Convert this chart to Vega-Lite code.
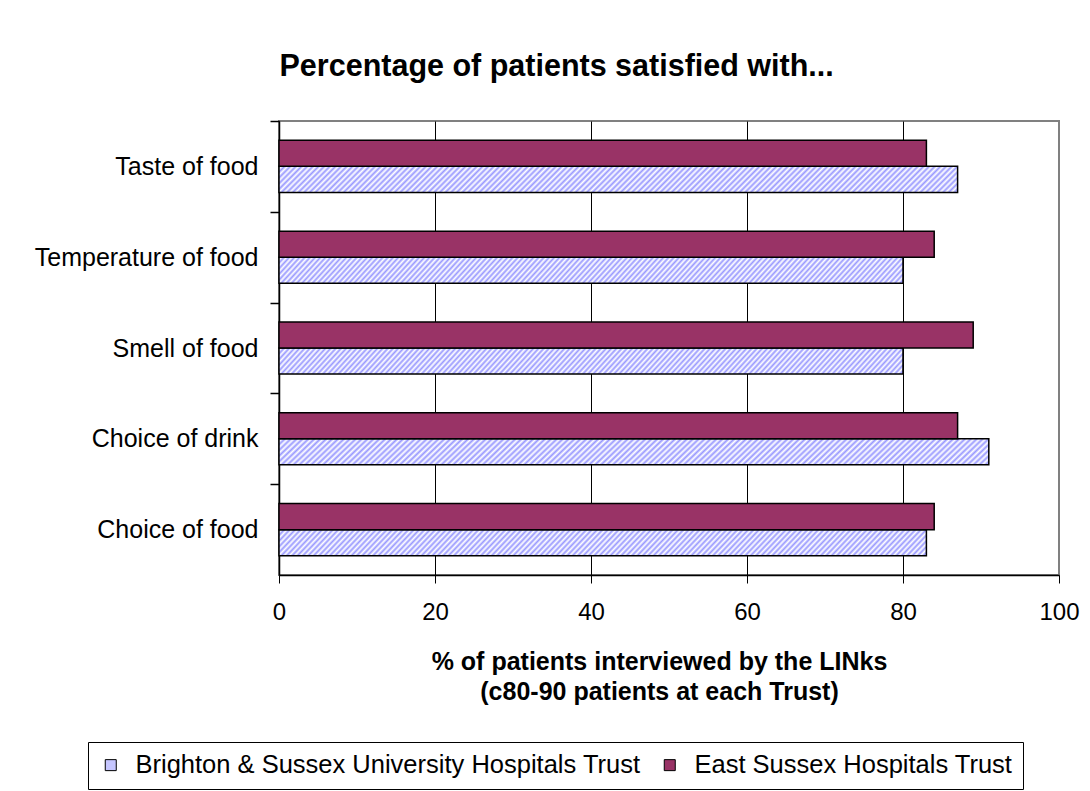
{
  "$schema": "https://vega.github.io/schema/vega-lite/v6.json",
  "width": 780,
  "height": 454,
  "autosize": "none",
  "padding": {"left": 279, "top": 121, "right": 31, "bottom": 216},
  "background": "white",
  "config": {"font": "Liberation Sans", "view": {"stroke": "#808080", "strokeWidth": 2}},
  "title": {"text": "Percentage of patients satisfied with...", "fontSize": 30.5, "fontWeight": "bold", "color": "black", "anchor": "middle", "frame": "bounds", "offset": 14, "baseline": "alphabetic"},
  "data": {"values": [
    {"Item": "Taste of food", "Trust": "Brighton & Sussex University Hospitals Trust", "Percent": 87},
    {"Item": "Taste of food", "Trust": "East Sussex Hospitals Trust", "Percent": 83},
    {"Item": "Temperature of food", "Trust": "Brighton & Sussex University Hospitals Trust", "Percent": 80},
    {"Item": "Temperature of food", "Trust": "East Sussex Hospitals Trust", "Percent": 84},
    {"Item": "Smell of food", "Trust": "Brighton & Sussex University Hospitals Trust", "Percent": 80},
    {"Item": "Smell of food", "Trust": "East Sussex Hospitals Trust", "Percent": 89},
    {"Item": "Choice of drink", "Trust": "Brighton & Sussex University Hospitals Trust", "Percent": 91},
    {"Item": "Choice of drink", "Trust": "East Sussex Hospitals Trust", "Percent": 87},
    {"Item": "Choice of food", "Trust": "Brighton & Sussex University Hospitals Trust", "Percent": 83},
    {"Item": "Choice of food", "Trust": "East Sussex Hospitals Trust", "Percent": 84}
  ]},
  "mark": {"type": "bar", "stroke": "black", "strokeWidth": 1.5},
  "encoding": {
    "y": {"field": "Item", "type": "nominal",
      "sort": ["Taste of food", "Temperature of food", "Smell of food", "Choice of drink", "Choice of food"],
      "scale": {"paddingInner": 0.427, "paddingOuter": 0.213},
      "axis": {"title": null, "labelFontSize": 25, "labelColor": "black", "labelLimit": 400, "labelPadding": 12, "tickSize": 9, "tickColor": "black", "tickWidth": 1.5, "tickOffset": -45.4, "labelOffset": 45.4, "domainColor": "black", "domainWidth": 1.5, "grid": false}},
    "yOffset": {"field": "Trust", "type": "nominal", "sort": ["East Sussex Hospitals Trust", "Brighton & Sussex University Hospitals Trust"]},
    "x": {"field": "Percent", "type": "quantitative",
      "scale": {"domain": [0, 100], "nice": false},
      "axis": {"values": [0, 20, 40, 60, 80, 100], "labelFlush": false, "labelFontSize": 24, "labelColor": "black", "labelPadding": 17, "tickSize": 8, "tickColor": "black", "domainColor": "black", "domainWidth": 1.5, "grid": true,
        "gridColor": {"condition": {"test": "datum.value === 100", "value": "#808080"}, "value": "black"}, "gridWidth": 1, "gridOpacity": 1,
        "title": ["% of patients interviewed by the LINks", "(c80-90 patients at each Trust)"],
        "titleFontSize": 25, "titleFontWeight": "bold", "titleColor": "black", "titleLineHeight": 30, "titlePadding": 25, "titleX": 380}},
    "fill": {"field": "Trust", "type": "nominal",
      "scale": {"domain": ["Brighton & Sussex University Hospitals Trust", "East Sussex Hospitals Trust"], "range": ["#c6c6ff", "#993366"]},
      "condition": {"test": "datum.Trust === 'Brighton & Sussex University Hospitals Trust'", "value": {"gradient": "linear", "x1": 0, "y1": 0, "x2": 1.04, "y2": 0.0395, "stops": [
{"offset":0.000,"color":"#99f"},{"offset":0.004,"color":"#fff"},{"offset":0.008,"color":"#99f"},{"offset":0.012,"color":"#fff"},{"offset":0.016,"color":"#99f"},{"offset":0.020,"color":"#fff"},{"offset":0.024,"color":"#99f"},{"offset":0.028,"color":"#fff"},{"offset":0.032,"color":"#99f"},{"offset":0.036,"color":"#fff"},{"offset":0.040,"color":"#99f"},{"offset":0.044,"color":"#fff"},{"offset":0.048,"color":"#99f"},{"offset":0.052,"color":"#fff"},{"offset":0.056,"color":"#99f"},{"offset":0.060,"color":"#fff"},{"offset":0.064,"color":"#99f"},{"offset":0.068,"color":"#fff"},{"offset":0.072,"color":"#99f"},{"offset":0.076,"color":"#fff"},{"offset":0.080,"color":"#99f"},{"offset":0.084,"color":"#fff"},{"offset":0.088,"color":"#99f"},{"offset":0.092,"color":"#fff"},{"offset":0.096,"color":"#99f"},
{"offset":0.100,"color":"#fff"},{"offset":0.104,"color":"#99f"},{"offset":0.108,"color":"#fff"},{"offset":0.112,"color":"#99f"},{"offset":0.116,"color":"#fff"},{"offset":0.120,"color":"#99f"},{"offset":0.124,"color":"#fff"},{"offset":0.128,"color":"#99f"},{"offset":0.132,"color":"#fff"},{"offset":0.136,"color":"#99f"},{"offset":0.140,"color":"#fff"},{"offset":0.144,"color":"#99f"},{"offset":0.148,"color":"#fff"},{"offset":0.152,"color":"#99f"},{"offset":0.156,"color":"#fff"},{"offset":0.160,"color":"#99f"},{"offset":0.164,"color":"#fff"},{"offset":0.168,"color":"#99f"},{"offset":0.172,"color":"#fff"},{"offset":0.176,"color":"#99f"},{"offset":0.180,"color":"#fff"},{"offset":0.184,"color":"#99f"},{"offset":0.188,"color":"#fff"},{"offset":0.192,"color":"#99f"},{"offset":0.196,"color":"#fff"},
{"offset":0.200,"color":"#99f"},{"offset":0.204,"color":"#fff"},{"offset":0.208,"color":"#99f"},{"offset":0.212,"color":"#fff"},{"offset":0.216,"color":"#99f"},{"offset":0.220,"color":"#fff"},{"offset":0.224,"color":"#99f"},{"offset":0.228,"color":"#fff"},{"offset":0.232,"color":"#99f"},{"offset":0.236,"color":"#fff"},{"offset":0.240,"color":"#99f"},{"offset":0.244,"color":"#fff"},{"offset":0.248,"color":"#99f"},{"offset":0.252,"color":"#fff"},{"offset":0.256,"color":"#99f"},{"offset":0.260,"color":"#fff"},{"offset":0.264,"color":"#99f"},{"offset":0.268,"color":"#fff"},{"offset":0.272,"color":"#99f"},{"offset":0.276,"color":"#fff"},{"offset":0.280,"color":"#99f"},{"offset":0.284,"color":"#fff"},{"offset":0.288,"color":"#99f"},{"offset":0.292,"color":"#fff"},{"offset":0.296,"color":"#99f"},
{"offset":0.300,"color":"#fff"},{"offset":0.304,"color":"#99f"},{"offset":0.308,"color":"#fff"},{"offset":0.312,"color":"#99f"},{"offset":0.316,"color":"#fff"},{"offset":0.320,"color":"#99f"},{"offset":0.324,"color":"#fff"},{"offset":0.328,"color":"#99f"},{"offset":0.332,"color":"#fff"},{"offset":0.336,"color":"#99f"},{"offset":0.340,"color":"#fff"},{"offset":0.344,"color":"#99f"},{"offset":0.348,"color":"#fff"},{"offset":0.352,"color":"#99f"},{"offset":0.356,"color":"#fff"},{"offset":0.360,"color":"#99f"},{"offset":0.364,"color":"#fff"},{"offset":0.368,"color":"#99f"},{"offset":0.372,"color":"#fff"},{"offset":0.376,"color":"#99f"},{"offset":0.380,"color":"#fff"},{"offset":0.384,"color":"#99f"},{"offset":0.388,"color":"#fff"},{"offset":0.392,"color":"#99f"},{"offset":0.396,"color":"#fff"},
{"offset":0.400,"color":"#99f"},{"offset":0.404,"color":"#fff"},{"offset":0.408,"color":"#99f"},{"offset":0.412,"color":"#fff"},{"offset":0.416,"color":"#99f"},{"offset":0.420,"color":"#fff"},{"offset":0.424,"color":"#99f"},{"offset":0.428,"color":"#fff"},{"offset":0.432,"color":"#99f"},{"offset":0.436,"color":"#fff"},{"offset":0.440,"color":"#99f"},{"offset":0.444,"color":"#fff"},{"offset":0.448,"color":"#99f"},{"offset":0.452,"color":"#fff"},{"offset":0.456,"color":"#99f"},{"offset":0.460,"color":"#fff"},{"offset":0.464,"color":"#99f"},{"offset":0.468,"color":"#fff"},{"offset":0.472,"color":"#99f"},{"offset":0.476,"color":"#fff"},{"offset":0.480,"color":"#99f"},{"offset":0.484,"color":"#fff"},{"offset":0.488,"color":"#99f"},{"offset":0.492,"color":"#fff"},{"offset":0.496,"color":"#99f"},
{"offset":0.500,"color":"#fff"},{"offset":0.504,"color":"#99f"},{"offset":0.508,"color":"#fff"},{"offset":0.512,"color":"#99f"},{"offset":0.516,"color":"#fff"},{"offset":0.520,"color":"#99f"},{"offset":0.524,"color":"#fff"},{"offset":0.528,"color":"#99f"},{"offset":0.532,"color":"#fff"},{"offset":0.536,"color":"#99f"},{"offset":0.540,"color":"#fff"},{"offset":0.544,"color":"#99f"},{"offset":0.548,"color":"#fff"},{"offset":0.552,"color":"#99f"},{"offset":0.556,"color":"#fff"},{"offset":0.560,"color":"#99f"},{"offset":0.564,"color":"#fff"},{"offset":0.568,"color":"#99f"},{"offset":0.572,"color":"#fff"},{"offset":0.576,"color":"#99f"},{"offset":0.580,"color":"#fff"},{"offset":0.584,"color":"#99f"},{"offset":0.588,"color":"#fff"},{"offset":0.592,"color":"#99f"},{"offset":0.596,"color":"#fff"},
{"offset":0.600,"color":"#99f"},{"offset":0.604,"color":"#fff"},{"offset":0.608,"color":"#99f"},{"offset":0.612,"color":"#fff"},{"offset":0.616,"color":"#99f"},{"offset":0.620,"color":"#fff"},{"offset":0.624,"color":"#99f"},{"offset":0.628,"color":"#fff"},{"offset":0.632,"color":"#99f"},{"offset":0.636,"color":"#fff"},{"offset":0.640,"color":"#99f"},{"offset":0.644,"color":"#fff"},{"offset":0.648,"color":"#99f"},{"offset":0.652,"color":"#fff"},{"offset":0.656,"color":"#99f"},{"offset":0.660,"color":"#fff"},{"offset":0.664,"color":"#99f"},{"offset":0.668,"color":"#fff"},{"offset":0.672,"color":"#99f"},{"offset":0.676,"color":"#fff"},{"offset":0.680,"color":"#99f"},{"offset":0.684,"color":"#fff"},{"offset":0.688,"color":"#99f"},{"offset":0.692,"color":"#fff"},{"offset":0.696,"color":"#99f"},
{"offset":0.700,"color":"#fff"},{"offset":0.704,"color":"#99f"},{"offset":0.708,"color":"#fff"},{"offset":0.712,"color":"#99f"},{"offset":0.716,"color":"#fff"},{"offset":0.720,"color":"#99f"},{"offset":0.724,"color":"#fff"},{"offset":0.728,"color":"#99f"},{"offset":0.732,"color":"#fff"},{"offset":0.736,"color":"#99f"},{"offset":0.740,"color":"#fff"},{"offset":0.744,"color":"#99f"},{"offset":0.748,"color":"#fff"},{"offset":0.752,"color":"#99f"},{"offset":0.756,"color":"#fff"},{"offset":0.760,"color":"#99f"},{"offset":0.764,"color":"#fff"},{"offset":0.768,"color":"#99f"},{"offset":0.772,"color":"#fff"},{"offset":0.776,"color":"#99f"},{"offset":0.780,"color":"#fff"},{"offset":0.784,"color":"#99f"},{"offset":0.788,"color":"#fff"},{"offset":0.792,"color":"#99f"},{"offset":0.796,"color":"#fff"},
{"offset":0.800,"color":"#99f"},{"offset":0.804,"color":"#fff"},{"offset":0.808,"color":"#99f"},{"offset":0.812,"color":"#fff"},{"offset":0.816,"color":"#99f"},{"offset":0.820,"color":"#fff"},{"offset":0.824,"color":"#99f"},{"offset":0.828,"color":"#fff"},{"offset":0.832,"color":"#99f"},{"offset":0.836,"color":"#fff"},{"offset":0.840,"color":"#99f"},{"offset":0.844,"color":"#fff"},{"offset":0.848,"color":"#99f"},{"offset":0.852,"color":"#fff"},{"offset":0.856,"color":"#99f"},{"offset":0.860,"color":"#fff"},{"offset":0.864,"color":"#99f"},{"offset":0.868,"color":"#fff"},{"offset":0.872,"color":"#99f"},{"offset":0.876,"color":"#fff"},{"offset":0.880,"color":"#99f"},{"offset":0.884,"color":"#fff"},{"offset":0.888,"color":"#99f"},{"offset":0.892,"color":"#fff"},{"offset":0.896,"color":"#99f"},
{"offset":0.900,"color":"#fff"},{"offset":0.904,"color":"#99f"},{"offset":0.908,"color":"#fff"},{"offset":0.912,"color":"#99f"},{"offset":0.916,"color":"#fff"},{"offset":0.920,"color":"#99f"},{"offset":0.924,"color":"#fff"},{"offset":0.928,"color":"#99f"},{"offset":0.932,"color":"#fff"},{"offset":0.936,"color":"#99f"},{"offset":0.940,"color":"#fff"},{"offset":0.944,"color":"#99f"},{"offset":0.948,"color":"#fff"},{"offset":0.952,"color":"#99f"},{"offset":0.956,"color":"#fff"},{"offset":0.960,"color":"#99f"},{"offset":0.964,"color":"#fff"},{"offset":0.968,"color":"#99f"},{"offset":0.972,"color":"#fff"},{"offset":0.976,"color":"#99f"},{"offset":0.980,"color":"#fff"},{"offset":0.984,"color":"#99f"},{"offset":0.988,"color":"#fff"},{"offset":0.992,"color":"#99f"},{"offset":0.996,"color":"#fff"},
{"offset":1.000,"color":"#99f"}
      ]}},
      "legend": {"title": null, "orient": "none", "legendX": -191, "legendY": 621, "direction": "horizontal",
        "strokeColor": "black", "fillColor": "white", "padding": 10,
        "symbolType": "square", "symbolSize": 121, "symbolStrokeColor": "black", "symbolStrokeWidth": 1,
        "labelFontSize": 25.5, "labelColor": "black", "labelLimit": 800, "labelOffset": 12, "columnPadding": 16,
        "encode": {"symbols": {"update": {
          "fill": [
            {"test": "datum.value === 'Brighton & Sussex University Hospitals Trust'", "value": {"gradient": "linear", "x1": 0, "y1": 0, "x2": 1, "y2": 1, "stops": [
              {"offset":0,"color":"#99f"},{"offset":0.125,"color":"#fff"},{"offset":0.25,"color":"#99f"},{"offset":0.375,"color":"#fff"},{"offset":0.5,"color":"#99f"},{"offset":0.625,"color":"#fff"},{"offset":0.75,"color":"#99f"},{"offset":0.875,"color":"#fff"},{"offset":1,"color":"#99f"}]}},
            {"value": "#993366"}
          ],
          "stroke": {"value": "black"},
          "strokeWidth": {"value": 1}
        }}}
      }
    }
  }
}
